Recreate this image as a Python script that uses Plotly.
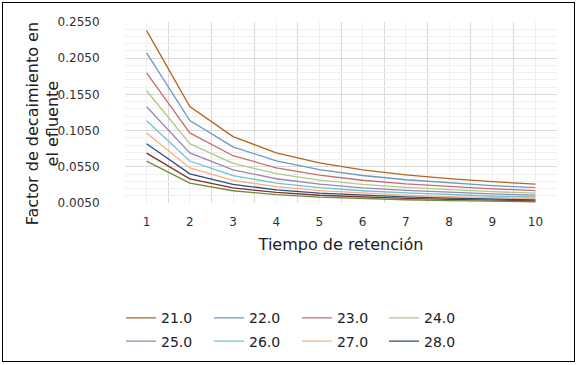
import plotly.graph_objects as go

# ---- data ----
tiempo = [1, 2, 3, 4, 5, 6, 7, 8, 9, 10]
tick_labels = ["1", "2", "3", "4", "5", "6", "7", "8", "9", "10"]
y_tick_values = [0.0050, 0.0550, 0.1050, 0.1550, 0.2050, 0.2550]

serie_21 = [0.2430, 0.1383, 0.0967, 0.0743, 0.0603, 0.0508, 0.0439, 0.0386, 0.0344, 0.0311]
serie_22 = [0.2124, 0.1188, 0.0825, 0.0632, 0.0512, 0.0430, 0.0371, 0.0326, 0.0291, 0.0263]
serie_23 = [0.1848, 0.1018, 0.0703, 0.0536, 0.0434, 0.0364, 0.0314, 0.0276, 0.0246, 0.0222]
serie_24 = [0.1600, 0.0870, 0.0597, 0.0455, 0.0367, 0.0308, 0.0265, 0.0233, 0.0207, 0.0187]
serie_25 = [0.1380, 0.0741, 0.0507, 0.0385, 0.0310, 0.0260, 0.0224, 0.0196, 0.0175, 0.0158]
serie_26 = [0.1186, 0.0630, 0.0429, 0.0325, 0.0262, 0.0219, 0.0189, 0.0165, 0.0147, 0.0133]
serie_27 = [0.1016, 0.0535, 0.0363, 0.0275, 0.0221, 0.0185, 0.0159, 0.0139, 0.0124, 0.0112]
serie_28 = [0.0868, 0.0453, 0.0307, 0.0232, 0.0186, 0.0156, 0.0134, 0.0117, 0.0104, 0.0094]
serie_29 = [0.0739, 0.0384, 0.0259, 0.0196, 0.0157, 0.0131, 0.0113, 0.0099, 0.0088, 0.0079]
serie_30 = [0.0629, 0.0325, 0.0219, 0.0165, 0.0132, 0.0111, 0.0095, 0.0083, 0.0074, 0.0067]

series_names = ["21.0", "22.0", "23.0", "24.0", "25.0", "26.0", "27.0", "28.0", "29.0", "30.0"]
series_values = [serie_21, serie_22, serie_23, serie_24, serie_25,
                 serie_26, serie_27, serie_28, serie_29, serie_30]
series_colors = ["#B5651D", "#6F97C6", "#C0706E", "#AFC88A", "#9A86B4",
                 "#6CC3D3", "#F5B27A", "#2E4F78", "#7A3230", "#6F8A3A"]
# legend column of each series (the last two are not shown in the legend)
legend_column = ["legend", "legend2", "legend3", "legend4",
                 "legend", "legend2", "legend3", "legend4", None, None]

FONT = "DejaVu Sans"
TXT = "#303030"

fig = go.Figure()
for i, (name, vals, col, leg) in enumerate(zip(series_names, series_values, series_colors, legend_column)):
    fig.add_trace(go.Scatter(
        x=tiempo, y=vals, name=name, mode="lines",
        line=dict(color=col, width=1.3),
        showlegend=leg is not None, legend=leg or "legend",
        legendgroup=f"g{i}",
    ))

legend_x = [-0.00926, 0.1944, 0.398, 0.5995]
legend_common = dict(
    orientation="v", xanchor="left", y=-0.549, yanchor="top",
    font=dict(size=14, family=FONT, color="#202020"),
    bgcolor="rgba(0,0,0,0)", traceorder="grouped", tracegroupgap=2,
)

fig.update_layout(
    width=579, height=365,
    margin=dict(l=125, r=22, t=22, b=162, autoexpand=False),
    paper_bgcolor="white", plot_bgcolor="white",
    font=dict(family=FONT, color=TXT),
    showlegend=True,
    legend=dict(x=legend_x[0], **legend_common),
    legend2=dict(x=legend_x[1], **legend_common),
    legend3=dict(x=legend_x[2], **legend_common),
    legend4=dict(x=legend_x[3], **legend_common),
    xaxis=dict(
        range=[0.5, 10.5], tickmode="array", tickvals=tiempo, ticktext=tick_labels,
        showgrid=True, gridcolor="#EFEFEF", gridwidth=1,
        minor=dict(tickvals=[0.5 + i for i in range(11)], showgrid=True,
                   gridcolor="#D9D9D9", gridwidth=1),
        zeroline=False, showline=False,
        ticks="outside", ticklen=8, tickcolor="rgba(0,0,0,0)",
        tickfont=dict(size=12, family=FONT, color=TXT),
        title=dict(text="Tiempo de retención", font=dict(size=16, family=FONT, color="#202020"),
                   standoff=10),
        fixedrange=True,
    ),
    yaxis=dict(
        range=[0.005, 0.255], tickmode="array", tickvals=y_tick_values,
        tickformat=".4f",
        showgrid=True, gridcolor="#D9D9D9", gridwidth=1,
        minor=dict(dtick=0.01, tick0=0.005, showgrid=True, gridcolor="#EFEFEF", gridwidth=1),
        zeroline=False, showline=False,
        ticks="outside", ticklen=22, tickcolor="rgba(0,0,0,0)",
        tickfont=dict(size=12, family=FONT, color=TXT),
        fixedrange=True,
    ),
    annotations=[
        dict(
            text="Factor de decaimiento en<br>el efluente",
            xref="paper", yref="paper", x=-0.19, y=0.44,
            xanchor="center", yanchor="middle", textangle=-90, showarrow=False,
            font=dict(size=16, family=FONT, color="#202020"),
        ),
        dict(
            text=" ", xref="paper", yref="paper", x=0.3785, y=0.116,
            xanchor="center", yanchor="middle", showarrow=False,
            width=571, height=358, borderpad=0, borderwidth=1, bordercolor="black",
            bgcolor="rgba(0,0,0,0)",
        ),
    ],
)

fig.write_html("out.html", config={"displayModeBar": False},
               post_script="document.body.style.margin='0';")
